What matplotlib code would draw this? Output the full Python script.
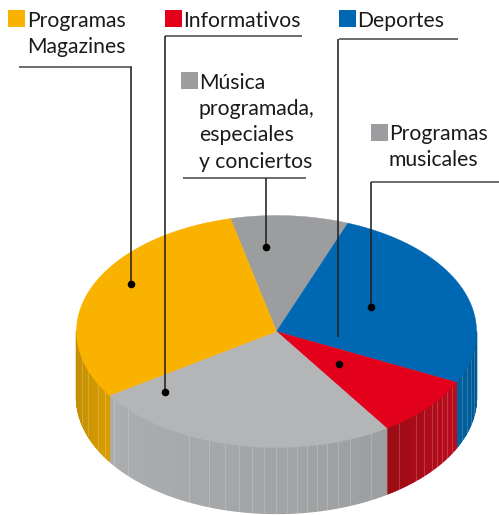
import numpy as np
import matplotlib
matplotlib.use("Agg")
import matplotlib.pyplot as plt
from matplotlib.patches import Rectangle

# slices go clockwise from the top, share of the pie in percent
slice_names = ["Música", "Deportes", "Informativos", "Programas musicales", "Programas Magazines"]
slice_values = [9.5, 26.4, 8.5, 25.0, 30.6]
top_colors = ["#9c9d9f", "#0068b3", "#e2001a", "#b4b5b7", "#fab200"]
# side colour at the left and right end of each slice
side_left = ["#9c9d9f", "#00639f", "#990c14", "#acadaf", "#c48f05"]
side_right = ["#9c9d9f", "#005a96", "#bb0c1e", "#9d9e9f", "#d99e00"]
start_angle = 103.3

# labels: lines of text, x, baseline of first line, colour of the square, square x, square y
label_lines = [["Programas", "Magazines"], ["Informativos"], ["Deportes"],
               ["Música", "programada,", "especiales", "y conciertos"], ["Programas", "musicales"]]
label_x = [27, 183, 357, 199, 389]
label_y = [27, 27, 27, 89, 140]
square_colors = ["#fab200", "#e2001a", "#0068b3", "#9c9d9f", "#9c9d9f"]
square_x = [8, 165, 339, 181, 371]
square_y = [10, 10, 10, 72, 124]

# leader lines: horizontal (x0, x1, y), drop (x, y0, y1), dot (x, y)
rule_lines = [(19, 132, 67), (165, 302, 35.5), (339, 458, 38.5), (183, 306, 178), (371, 499, 182)]
drop_lines = [(131.5, 67, 284), (165, 35.5, 392), (338.5, 38.5, 337), (266.5, 178, 247), (371, 182, 307)]
dots = [(131.5, 284), (165, 392), (339, 363.5), (266.5, 247), (371, 307)]

# x positions of the pale streaks on the side of the pie
streak_x = [82, 88, 98, 105, 114, 128, 189, 209, 225, 239, 252, 264, 276, 287, 297, 307, 317,
            327, 338, 350, 371, 399, 416, 424, 432, 437, 442, 447, 452, 462, 467, 471, 474]

cx, cy, rx, ry, depth = 276.5, 331.5, 200, 116, 66


def rim(a):
    a = np.radians(a)
    return cx + rx * np.cos(a), cy - ry * np.sin(a)


def mix(c1, c2, t):
    c1 = np.array(matplotlib.colors.to_rgb(c1))
    c2 = np.array(matplotlib.colors.to_rgb(c2))
    return tuple(c1 + (c2 - c1) * t)


fig = plt.figure(figsize=(4.99, 5.15), dpi=100)
ax = fig.add_axes([0, 0, 1, 1])
ax.set_xlim(0, 499)
ax.set_ylim(515, 0)
ax.axis("off")

# walk round the pie clockwise
edges = start_angle - np.cumsum([0] + slice_values) * 3.6
for i in range(len(slice_values)):
    a0, a1 = edges[i], edges[i + 1]

    # side wall, only the part facing us (180-360 deg)
    for shift in [0, -360]:
        lo = max(a1, 180 + shift)
        hi = min(a0, 360 + shift)
        if hi <= lo:
            continue
        steps = np.linspace(lo, hi, int(hi - lo) + 2)
        x_lo, x_hi = rim(lo)[0], rim(hi)[0]
        for j in range(len(steps) - 1):
            xa, ya = rim(steps[j])
            xb, yb = rim(steps[j + 1])
            t = ((xa + xb) / 2 - x_lo) / max(x_hi - x_lo, 1)
            ax.fill([xa, xb, xb, xa], [ya, yb, yb + depth, ya + depth], color=mix(side_left[i], side_right[i], t),
                    lw=0.9, zorder=1)

    # top of the slice
    aa = np.linspace(a0, a1, 120)
    xs, ys = rim(aa)
    ax.fill(np.r_[cx, xs], np.r_[cy, ys], color=top_colors[i], lw=0.3, zorder=3)

# streaks on the side
for x in streak_x:
    a = -np.degrees(np.arccos((x - cx) / rx))
    y = rim(a)[1]
    ax.plot([x, x], [y, y + depth], color="white", lw=0.6, alpha=0.22, zorder=2)

# leader lines
for x0, x1, y in rule_lines:
    ax.plot([x0, x1], [y, y], color="#444444", lw=1.1, solid_capstyle="butt", zorder=5)
for x, y0, y1 in drop_lines:
    ax.plot([x, x], [y0, y1], color="#222222", lw=1.15, solid_capstyle="butt", zorder=5)
ax.scatter([d[0] for d in dots], [d[1] for d in dots], s=30, color="black", linewidths=0, zorder=6)

# labels, 26 px between lines
for i in range(len(label_lines)):
    ax.add_patch(Rectangle((square_x[i], square_y[i]), 17, 17, color=square_colors[i], lw=0, zorder=5))
    for n, line in enumerate(label_lines[i]):
        ax.text(label_x[i], label_y[i] + n * 26.2, line, family="Lato", fontsize=15.2, color="#1a1a1a",
                va="baseline", ha="left", zorder=6)

fig.savefig("out.png", dpi=100)
